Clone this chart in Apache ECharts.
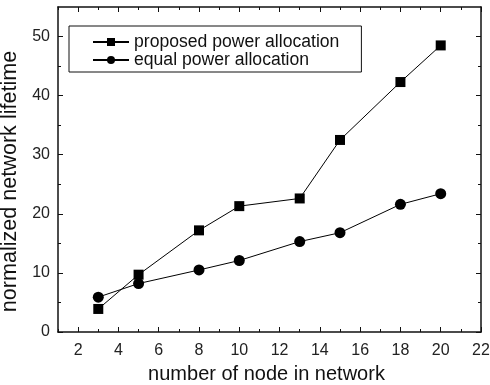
<!DOCTYPE html>
<html>
<head>
<meta charset="utf-8">
<script src="https://cdn.jsdelivr.net/npm/echarts@6/dist/echarts.min.js"></script>
<style>
    html, body { margin: 0; padding: 0; background: #fff; }
    #chart { width: 490px; height: 385px; }
</style>
</head>
<body>
<div id="chart"></div>
<script>
// 节点数 (x)
var nodeCounts = [3, 5, 8, 10, 13, 15, 18, 20];
// proposed power allocation
var proposedLifetime = [3.9, 9.7, 17.2, 21.3, 22.6, 32.5, 42.3, 48.5];
// equal power allocation
var equalLifetime = [5.9, 8.2, 10.5, 12.1, 15.3, 16.8, 21.6, 23.4];
// 刻度
var xMajorTicks = [2, 4, 6, 8, 10, 12, 14, 16, 18, 20, 22];
var xMinorTicks = [1, 3, 5, 7, 9, 11, 13, 15, 17, 19, 21];
var yMajorTicks = [0, 10, 20, 30, 40, 50];
var yMinorTicks = [5, 15, 25, 35, 45];

var seriesNames = ['proposed power allocation', 'equal power allocation'];

function toPairs(xs, ys) {
    var arr = [];
    for (var i = 0; i < xs.length; i++) {
        arr.push([xs[i], ys[i]]);
    }
    return arr;
}

var fontName = 'Liberation Sans, Arial, sans-serif';
var ink = '#111';

// 坐标轴(上下左右四边都带刻度)
function xAxisOf(position, ticks, len, showLine, showLabel) {
    return {
        type: 'value', min: 1, max: 22, position: position,
        axisLine: { show: showLine, onZero: false, lineStyle: { color: ink, width: 1.5 } },
        axisTick: { show: true, inside: true, length: len, customValues: ticks, lineStyle: { color: ink, width: 1 } },
        axisLabel: { show: showLabel, customValues: xMajorTicks, margin: 11, color: '#222', fontSize: 16, fontFamily: fontName },
        splitLine: { show: false }
    };
}
function yAxisOf(position, ticks, len, showLine, showLabel) {
    return {
        type: 'value', min: 0, max: 55, position: position,
        axisLine: { show: showLine, onZero: false, lineStyle: { color: ink, width: 1.5 } },
        axisTick: { show: true, inside: true, length: len, customValues: ticks, lineStyle: { color: ink, width: 1 } },
        axisLabel: { show: showLabel, customValues: yMajorTicks, margin: 8, color: '#222', fontSize: 16, fontFamily: fontName },
        splitLine: { show: false }
    };
}

var xAxes = [
    xAxisOf('bottom', xMajorTicks, 5, true, true),
    xAxisOf('bottom', xMinorTicks, 3, false, false),
    xAxisOf('top', xMajorTicks, 5, true, false),
    xAxisOf('top', xMinorTicks, 3, false, false)
];
xAxes[0].name = 'number of node in network';
xAxes[0].nameLocation = 'middle';
xAxes[0].nameGap = 32;
xAxes[0].nameTextStyle = { fontSize: 20, color: ink, fontFamily: fontName, padding: [0, 6, 0, 0] };

var yAxes = [
    yAxisOf('left', yMajorTicks, 5, true, true),
    yAxisOf('left', yMinorTicks, 3, false, false),
    yAxisOf('right', yMajorTicks, 5, true, false),
    yAxisOf('right', yMinorTicks, 3, false, false)
];
yAxes[0].name = 'normalized network lifetime';
yAxes[0].nameLocation = 'middle';
yAxes[0].nameGap = 33;
yAxes[0].nameTextStyle = { fontSize: 21.6, color: ink, fontFamily: fontName, padding: [0, 24, 0, 0] };

var option = {
    backgroundColor: '#fff',
    animation: false,
    grid: { left: 58, right: 9, top: 7, bottom: 53, containLabel: false, outerBoundsMode: 'none' },
    legend: {
        orient: 'vertical',
        left: 69,
        top: 26,
        align: 'left',
        padding: [7, 22, 3, 23],
        itemGap: 0,
        itemWidth: 36,
        itemHeight: 10,
        borderColor: ink,
        borderWidth: 1,
        borderRadius: 0,
        textStyle: { fontSize: 17.6, lineHeight: 18, color: ink, fontFamily: fontName },
        data: seriesNames
    },
    xAxis: xAxes,
    yAxis: yAxes,
    series: [
        {
            name: seriesNames[0],
            type: 'line',
            data: toPairs(nodeCounts, proposedLifetime),
            symbol: 'rect',
            symbolSize: 10,
            itemStyle: { color: '#000' },
            lineStyle: { color: '#000', width: 1 }
        },
        {
            name: seriesNames[1],
            type: 'line',
            data: toPairs(nodeCounts, equalLifetime),
            symbol: 'circle',
            symbolSize: 11,
            itemStyle: { color: '#000' },
            lineStyle: { color: '#000', width: 1 }
        }
    ]
};

echarts.init(document.getElementById('chart')).setOption(option);
</script>
</body>
</html>
